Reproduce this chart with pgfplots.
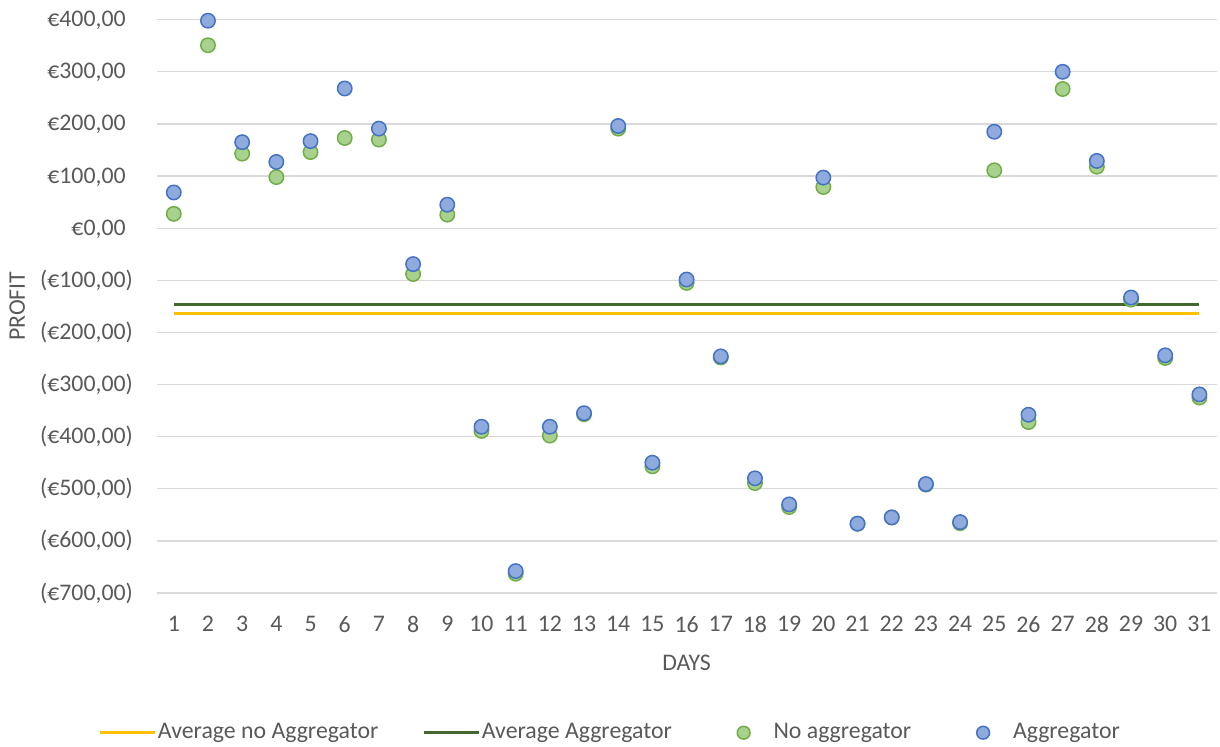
\documentclass[border=0pt]{standalone}
\usepackage{fontspec}
\setmainfont{Carlito}
\usepackage{pgfplots}
\pgfplotsset{compat=1.18}
\definecolor{tickgray}{HTML}{595959}
\definecolor{gridgray}{HTML}{D9D9D9}
\definecolor{avgyellow}{HTML}{FFC000}
\definecolor{avggreen}{HTML}{43682B}
\definecolor{bluefill}{HTML}{8FAADC}
\definecolor{blueedge}{HTML}{4472C4}
\definecolor{greenfill}{HTML}{A9D18E}
\definecolor{greenedge}{HTML}{70AD47}

\pgfplotstableread{
day agg noagg
1 68.5 27.5
2 398 351
3 165 143
4 127 98
5 167 146
6 268 173
7 191 170
8 -69 -88
9 45 26
10 -381 -389
11 -658 -663
12 -381 -398
13 -355 -357
14 196 191
15 -450 -457
16 -98.5 -105
17 -246 -248
18 -480 -489
19 -530 -535
20 97 79
21 -567 -567
22 -555 -555
23 -491 -492
24 -564 -566
25 185 111
26 -358 -372
27 300 267
28 129 118
29 -133 -137
30 -244 -249
31 -319 -325
}\datatable

\begin{document}
\begin{tikzpicture}
\useasboundingbox (-78.35pt,-77pt) rectangle (531.65pt,296.5pt);
\begin{axis}[
  at={(0,0)}, anchor=south west,
  scale only axis, width=529.9pt, height=286.65pt,
  xmin=0.5, xmax=31.5, ymin=-700, ymax=400,
  xtick={1,...,31},
  ytick={-700,-600,-500,-400,-300,-200,-100,0,100,200,300,400},
  yticklabels={{(€700,00)},{(€600,00)},{(€500,00)},{(€400,00)},{(€300,00)},{(€200,00)},{(€100,00)},{€0,00\phantom{)}},{€100,00\phantom{)}},{€200,00\phantom{)}},{€300,00\phantom{)}},{€400,00\phantom{)}}},
  /pgf/number format/assume math mode=true,
  axis line style={draw=none},
  tick style={draw=none},
  ymajorgrids,
  grid style={color=gridgray, line width=0.65pt},
  every tick label/.append style={font=\fontsize{11.9}{14}\selectfont, text=tickgray},
  xticklabel style={inner sep=0pt, anchor=north, yshift=-11.5pt},
  yticklabel style={inner sep=0pt, anchor=east, xshift=-11.7pt},
  xlabel={DAYS},
  ylabel={PROFIT},
  xlabel style={at={(axis description cs:0.5,0)}, anchor=north, inner sep=0pt, yshift=-31pt, font=\fontsize{11.9}{14}\selectfont, text=tickgray},
  ylabel style={at={(axis description cs:-0.1238,0.5)}, rotate=0, anchor=south, inner sep=0pt, font=\fontsize{11.9}{14}\selectfont, text=tickgray},
  legend columns=4,
  legend cell align=left,
  legend style={at={(axis description cs:-0.0554,-0.2437)}, anchor=west, draw=none, inner sep=0pt,
    font=\fontsize{11.9}{14}\selectfont, text=tickgray,
    nodes={inner sep=0pt},
    /tikz/every odd column/.append style={column sep=1pt},
    /tikz/every even column/.append style={column sep=22pt}},
  legend image code/.code={
    \path (0pt,0pt) (27.5pt,0pt);
    \draw[mark repeat=2,mark phase=2,#1,mark size=3.2pt] plot coordinates {(0pt,0pt) (13.75pt,0pt) (27.5pt,0pt)};
  },
]
\addplot[color=avgyellow, line width=1.3pt] coordinates {(1,-164.2) (31,-164.2)};
\addlegendentry{Average no Aggregator}
\addplot[color=avggreen, line width=1.3pt] coordinates {(1,-146.5) (31,-146.5)};
\addlegendentry{Average Aggregator}
\addplot[only marks, mark=*, mark size=3.6pt, mark options={fill=greenfill, draw=greenedge, line width=0.75pt}] table[x=day, y=noagg] {\datatable};
\addlegendentry{No aggregator}
\addplot[only marks, mark=*, mark size=3.6pt, mark options={fill=bluefill, draw=blueedge, line width=0.75pt}] table[x=day, y=agg] {\datatable};
\addlegendentry{Aggregator}
\end{axis}
\end{tikzpicture}
\end{document}
